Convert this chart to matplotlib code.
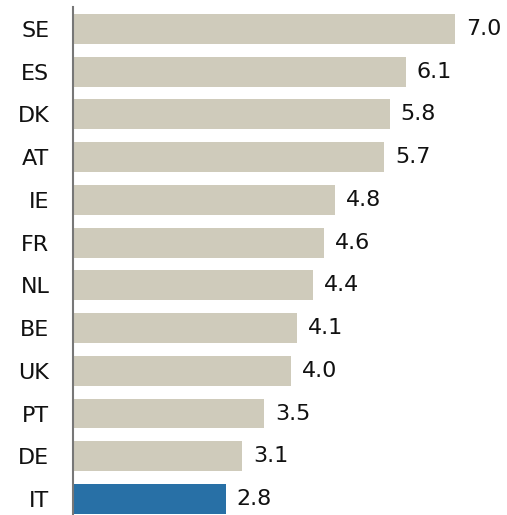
import matplotlib
matplotlib.use("Agg")
import matplotlib.pyplot as plt

# -------------------------
# Data
# -------------------------

countries = ["SE", "ES", "DK", "AT", "IE", "FR", "NL", "BE", "UK", "PT", "DE", "IT"]
values = [7.0, 6.1, 5.8, 5.7, 4.8, 4.6, 4.4, 4.1, 4.0, 3.5, 3.1, 2.8]
highlight = "IT"

beige = "#cfcbbb"
blue = "#2870a6"

# -------------------------
# Plot
# -------------------------

fig = plt.figure(figsize=(5.07, 5.15), dpi=100)
ax = fig.add_axes([73 / 507, 0, 1 - 73 / 507, 1 - 7 / 515])

n = len(countries)
ypos = list(range(n - 1, -1, -1))
colors = [blue if c == highlight else beige for c in countries]

ax.barh(ypos, values, height=0.70, color=colors, edgecolor="none", left=0)

for y, v in zip(ypos, values):
    ax.text(v + 0.2, y, f"{v:.1f}", va="center", ha="left",
            fontsize=16, color="#111111")

ax.set_yticks(ypos)
ax.set_yticklabels(countries, fontsize=16, color="#111111")
ax.tick_params(axis="y", length=0, pad=17)
ax.set_xticks([])

ax.set_xlim(0, 7.95)
ax.set_ylim(-0.375, n - 1 + 0.515)

for s in ["top", "right", "bottom"]:
    ax.spines[s].set_visible(False)
ax.spines["left"].set_color("#777777")
ax.spines["left"].set_linewidth(1.5)

fig.savefig("out.png", dpi=100)
